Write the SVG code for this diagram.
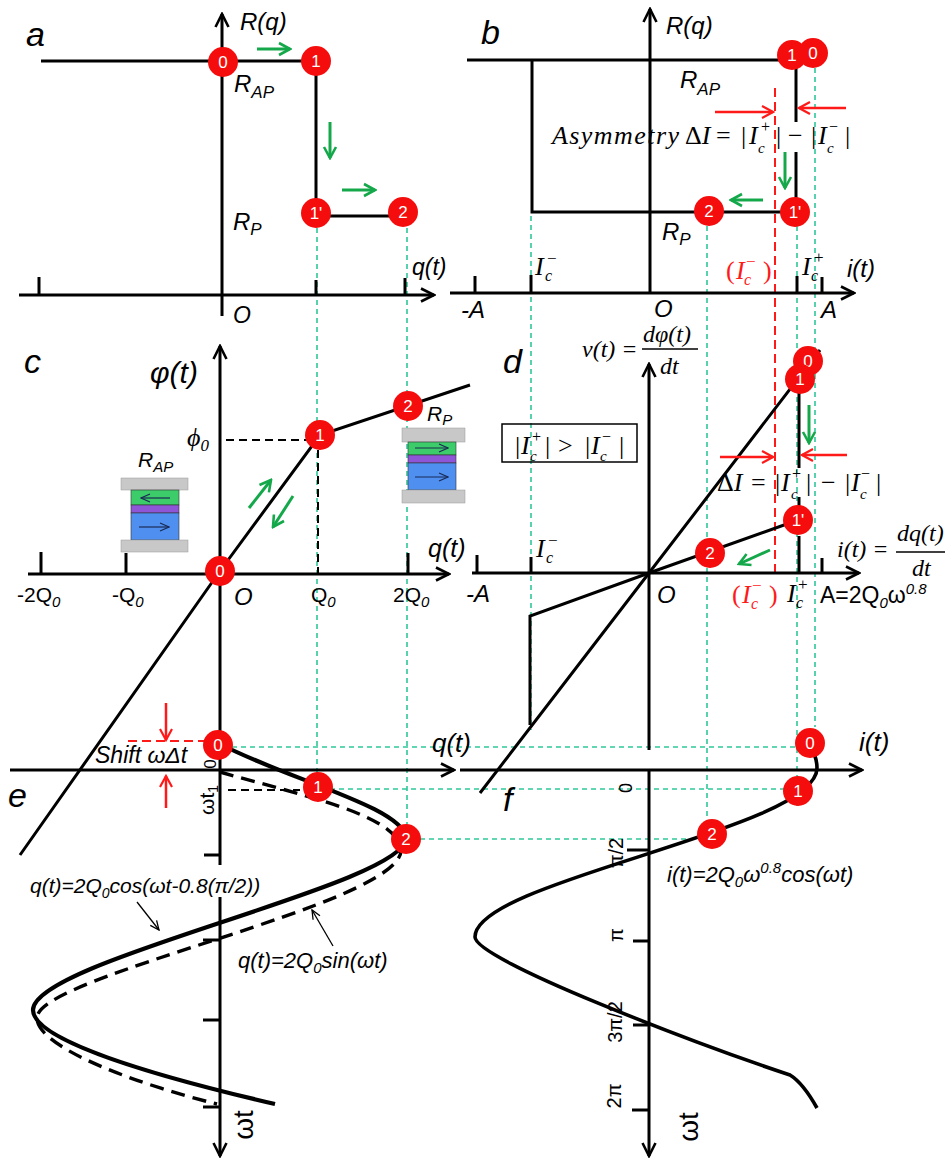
<svg xmlns="http://www.w3.org/2000/svg" width="945" height="1159" viewBox="0 0 945 1159">
<defs>
<style>
.ax{stroke:#000;stroke-width:3;fill:none}
.ln{stroke:#000;stroke-width:3;fill:none}
.tk{stroke:#000;stroke-width:3}
.gd{stroke:#2fc79a;stroke-width:1.6;stroke-dasharray:5 4;fill:none}
.rd{stroke:#ff1a1a;stroke-width:2;stroke-dasharray:9 5;fill:none}
.bd{stroke:#000;stroke-width:2;stroke-dasharray:8 5;fill:none}
.ga{stroke:#14a84a;stroke-width:3;fill:none;marker-end:url(#ag)}
.ra{stroke:#ff1a1a;stroke-width:2.5;fill:none;marker-end:url(#ar)}
.sa{stroke:#000;stroke-width:1.3;fill:none;marker-end:url(#as)}
.nd circle{fill:#f50d0d}
.nd text{fill:#fff;font-family:"Liberation Sans",Arial,sans-serif;font-size:17px;text-anchor:middle}
.s{font-family:"Liberation Sans",Arial,sans-serif;font-style:italic}
.u{font-family:"Liberation Sans",Arial,sans-serif}
.m{font-family:"Liberation Serif","Times New Roman",serif;font-style:italic}
.mu{font-family:"Liberation Serif","Times New Roman",serif}
.red{fill:#ff1a1a}
.gray{fill:#c8c8c8;stroke:#999;stroke-width:0.5}
.grn{fill:#3dcc6a;stroke:#333;stroke-width:0.6}
.pur{fill:#8e55d6;stroke:#333;stroke-width:0.6}
.blu{fill:#4f8ff0;stroke:#333;stroke-width:0.6}
.thin{stroke:#1a2a55;stroke-width:1.2;fill:none;marker-end:url(#at)}
</style>
<marker id="ah" markerUnits="userSpaceOnUse" markerWidth="18" markerHeight="18" viewBox="0 0 18 18" refX="16" refY="9" orient="auto"><path d="M3,2.5 L16,9 L3,15.5" fill="none" stroke="#000" stroke-width="2.6"/></marker>
<marker id="ag" markerUnits="userSpaceOnUse" markerWidth="16" markerHeight="16" viewBox="0 0 16 16" refX="14" refY="8" orient="auto"><path d="M3,2 L14,8 L3,14" fill="none" stroke="#14a84a" stroke-width="2.6"/></marker>
<marker id="ar" markerUnits="userSpaceOnUse" markerWidth="16" markerHeight="16" viewBox="0 0 16 16" refX="14" refY="8" orient="auto"><path d="M3,2 L14,8 L3,14" fill="none" stroke="#ff1a1a" stroke-width="2.2"/></marker>
<marker id="as" markerUnits="userSpaceOnUse" markerWidth="12" markerHeight="12" viewBox="0 0 12 12" refX="11" refY="6" orient="auto"><path d="M2,2 L11,6 L2,10" fill="none" stroke="#000" stroke-width="1.3"/></marker>
<marker id="at" markerUnits="userSpaceOnUse" markerWidth="12" markerHeight="12" viewBox="0 0 12 12" refX="11" refY="6" orient="auto"><path d="M2,2 L11,6 L2,10" fill="none" stroke="#1a2a55" stroke-width="1.2"/></marker>
</defs>
<rect width="945" height="1159" fill="#fff"/>

<g id="connectors">
  <line class="gd" x1="317" y1="228" x2="317" y2="775"/>
  <line class="gd" x1="407" y1="228" x2="407" y2="825"/>
  <line class="gd" x1="531" y1="216" x2="531" y2="730"/>
  <line class="gd" x1="707" y1="226" x2="707" y2="820"/>
  <line class="gd" x1="797" y1="226" x2="797" y2="806"/>
  <line class="gd" x1="815" y1="68" x2="815" y2="727"/>
  <line class="gd" x1="232" y1="747" x2="797" y2="747"/>
  <line class="gd" x1="330" y1="789" x2="785" y2="789"/>
  <line class="gd" x1="420" y1="839" x2="698" y2="839"/>
  <line class="rd" x1="775" y1="88" x2="775" y2="573"/>
  <line class="rd" x1="128" y1="741" x2="205" y2="741"/>
  <line class="bd" x1="226" y1="440" x2="308" y2="440"/>
  <line class="bd" x1="318" y1="450" x2="318" y2="573"/>
  <line class="bd" x1="228" y1="790" x2="300" y2="790"/>

  <!-- panel a -->
  <line class="ax" x1="222" y1="316" x2="222" y2="14" marker-end="url(#ah)"/>
  <line class="ax" x1="19" y1="295" x2="434" y2="295" marker-end="url(#ah)"/>
  <line class="tk" x1="39" y1="277" x2="39" y2="295"/>
  <line class="tk" x1="316" y1="280" x2="316" y2="295"/>
  <line class="tk" x1="405" y1="278" x2="405" y2="295"/>
  <polyline class="ln" points="41,61 316,61 316,213"/>
  <line class="ln" x1="316" y1="216" x2="403" y2="216"/>
  <line class="ga" x1="257" y1="49" x2="290" y2="49"/>
  <line class="ga" x1="330" y1="122" x2="330" y2="158"/>
  <line class="ga" x1="342" y1="190" x2="375" y2="190"/>

  <!-- panel b -->
  <line class="ax" x1="650" y1="293" x2="650" y2="9" marker-end="url(#ah)"/>
  <line class="ax" x1="450" y1="293" x2="854" y2="293" marker-end="url(#ah)"/>
  <line class="tk" x1="475" y1="276" x2="475" y2="293"/>
  <line class="tk" x1="531" y1="275" x2="531" y2="293"/>
  <line class="tk" x1="797" y1="276" x2="797" y2="293"/>
  <line class="tk" x1="822" y1="277" x2="822" y2="293"/>
  <line class="ln" x1="467" y1="60" x2="792" y2="60"/>
  <polyline class="ln" points="532,60 532,212 795,212"/>
  <line class="ln" x1="796" y1="68" x2="796" y2="122"/>
  <line class="ln" x1="796" y1="152" x2="796" y2="200"/>
  <line class="ra" x1="715" y1="112" x2="773" y2="112"/>
  <line class="ra" x1="846" y1="108" x2="799" y2="108"/>
  <line class="ga" x1="785" y1="152" x2="785" y2="188"/>
  <line class="ga" x1="763" y1="200" x2="731" y2="200"/>

  <!-- panel c -->
  <line class="ax" x1="220" y1="865" x2="220" y2="346" marker-end="url(#ah)"/>
  <line class="ax" x1="28" y1="574" x2="449" y2="574" marker-end="url(#ah)"/>
  <line class="tk" x1="41" y1="552" x2="41" y2="574"/>
  <line class="tk" x1="126" y1="553" x2="126" y2="574"/>
  <line class="tk" x1="408" y1="553" x2="408" y2="574"/>
  <polyline class="ln" points="20,855 220,571 320,435 470,385"/>
  <line class="ga" x1="249" y1="508" x2="271" y2="480"/>
  <line class="ga" x1="293" y1="496" x2="273" y2="527"/>

  <!-- panel d -->
  <line class="ax" x1="649" y1="750" x2="649" y2="364" marker-end="url(#ah)"/>
  <line class="ax" x1="472" y1="573" x2="859" y2="573" marker-end="url(#ah)"/>
  <line class="tk" x1="477" y1="555" x2="477" y2="573"/>
  <line class="tk" x1="531" y1="557" x2="531" y2="573"/>
  <line class="tk" x1="822" y1="558" x2="822" y2="573"/>
  <polyline class="ln" points="480,793 649,573 820,350"/>
  <polyline class="ln" points="530,725 530,616 649,573 798,520"/>
  <line class="ln" x1="799" y1="393" x2="799" y2="468"/>
  <line class="ln" x1="799" y1="497" x2="799" y2="508"/>
  <line class="ln" x1="799" y1="536" x2="799" y2="573"/>
  <line class="ga" x1="809" y1="405" x2="809" y2="443"/>
  <line class="ga" x1="770" y1="550" x2="739" y2="564"/>
  <line class="ra" x1="720" y1="457" x2="773" y2="457"/>
  <line class="ra" x1="847" y1="455" x2="802" y2="455"/>

  <!-- panel e -->
  <line class="ax" x1="10" y1="770" x2="454" y2="770" marker-end="url(#ah)"/>
  <line class="ax" x1="220" y1="897" x2="220" y2="1156" marker-end="url(#ah)"/>
  <line class="tk" x1="204" y1="855" x2="220" y2="855"/>
  <line class="tk" x1="203" y1="940" x2="220" y2="940"/>
  <line class="tk" x1="203" y1="1020" x2="220" y2="1020"/>
  <line class="tk" x1="203" y1="1107" x2="220" y2="1107"/>
  <path d="M222,745 C290,780 404,808 406,838 C406,885 33,960 33,1010 C33,1040 150,1075 275,1104" fill="none" stroke="#000" stroke-width="4.2"/>
  <path d="M220,772 C300,795 399,815 401,850 C401,905 37,975 37,1018 C37,1048 140,1085 217,1104" fill="none" stroke="#000" stroke-width="3.4" stroke-dasharray="14 8"/>
  <line class="ra" x1="166" y1="703" x2="166" y2="740"/>
  <line class="ra" x1="166" y1="808" x2="166" y2="776"/>
  <line class="sa" x1="137" y1="902" x2="159" y2="930"/>
  <line class="sa" x1="333" y1="946" x2="312" y2="910"/>

  <!-- panel f -->
  <line class="ax" x1="460" y1="770" x2="862" y2="770" marker-end="url(#ah)"/>
  <line class="ax" x1="649" y1="770" x2="649" y2="1156" marker-end="url(#ah)"/>
  <line class="tk" x1="627" y1="850" x2="649" y2="850"/>
  <line class="tk" x1="633" y1="941" x2="649" y2="941"/>
  <line class="tk" x1="633" y1="1025" x2="649" y2="1025"/>
  <line class="tk" x1="632" y1="1110" x2="649" y2="1110"/>
  <path d="M810,745 C814,752 817,760 817,768 C817,830 475,880 475,937 C475,960 700,1045 790,1075 Q803,1083 817,1108" fill="none" stroke="#000" stroke-width="3.6"/>
</g>

<g id="mtj-ap">
  <rect class="gray" x="121" y="478" width="67" height="12"/>
  <rect class="grn" x="131" y="490" width="48" height="15"/>
  <rect class="pur" x="131" y="505" width="48" height="8"/>
  <rect class="blu" x="131" y="513" width="48" height="27"/>
  <rect class="gray" x="121" y="540" width="67" height="12"/>
  <line class="thin" x1="170" y1="498" x2="141" y2="498"/>
  <line class="thin" x1="139" y1="527" x2="169" y2="527"/>
</g>
<g id="mtj-p">
  <rect class="gray" x="402" y="428" width="63" height="14"/>
  <rect class="grn" x="408" y="442" width="48" height="13"/>
  <rect class="pur" x="408" y="455" width="48" height="8"/>
  <rect class="blu" x="408" y="463" width="48" height="27"/>
  <rect class="gray" x="402" y="490" width="63" height="13"/>
  <line class="thin" x1="415" y1="448" x2="448" y2="448"/>
  <line class="thin" x1="415" y1="477" x2="448" y2="477"/>
</g>

<g id="labels">
  <!-- a -->
  <text class="s" x="26" y="46" font-size="34">a</text>
  <text class="s" x="240" y="30" font-size="24">R(q)</text>
  <text class="s" x="234" y="92" font-size="24">R<tspan font-size="17" dy="6">AP</tspan></text>
  <text class="s" x="233" y="230" font-size="24">R<tspan font-size="17" dy="5">P</tspan></text>
  <text class="s" x="412" y="275" font-size="23">q(t)</text>
  <text class="s" x="233" y="323" font-size="23">O</text>
  <!-- b -->
  <text class="s" x="481" y="44" font-size="34">b</text>
  <text class="s" x="666" y="34" font-size="24">R(q)</text>
  <text class="s" x="680" y="88" font-size="24">R<tspan font-size="17" dy="7">AP</tspan></text>
  <text class="s" x="662" y="240" font-size="24">R<tspan font-size="17" dy="5">P</tspan></text>
  <text class="m" x="552" y="144" font-size="26" textLength="127" lengthAdjust="spacing">Asymmetry</text>
  <text class="mu" x="685" y="144" font-size="26">Δ<tspan class="m">I</tspan></text>
  <text class="mu" x="716" y="144" font-size="26">=</text>
  <text class="mu" x="741" y="144" font-size="26">|</text>
  <text class="m" x="749" y="144" font-size="26">I</text>
  <text class="m" x="758" y="153" font-size="15">c</text>
  <text class="mu" x="761" y="132" font-size="16">+</text>
  <text class="mu" x="776" y="144" font-size="26">|</text>
  <text class="mu" x="788" y="144" font-size="26">−</text>
  <text class="mu" x="811" y="144" font-size="26">|</text>
  <text class="m" x="818" y="144" font-size="26">I</text>
  <text class="m" x="827" y="153" font-size="15">c</text>
  <text class="mu" x="829" y="132" font-size="16">−</text>
  <text class="mu" x="845" y="144" font-size="26">|</text>
  <text class="m" x="535" y="275" font-size="26">I</text>
  <text class="m" x="545" y="281" font-size="16">c</text>
  <text class="mu" x="547" y="264" font-size="17">−</text>
  <text class="mu red" x="726" y="279" font-size="26">(</text>
  <text class="m red" x="736" y="279" font-size="26">I</text>
  <text class="m red" x="744" y="285" font-size="16">c</text>
  <text class="mu red" x="746" y="267" font-size="17">−</text>
  <text class="mu red" x="763" y="279" font-size="26">)</text>
  <text class="m" x="802" y="275" font-size="26">I</text>
  <text class="m" x="811" y="281" font-size="16">c</text>
  <text class="mu" x="814" y="263" font-size="17">+</text>
  <text class="s" x="847" y="277" font-size="24">i(t)</text>
  <text class="s" x="461" y="318" font-size="24">-A</text>
  <text class="s" x="654" y="317" font-size="24">O</text>
  <text class="s" x="821" y="318" font-size="24">A</text>
  <!-- c -->
  <text class="s" x="24" y="373" font-size="34">c</text>
  <text class="s" x="150" y="383" font-size="30">φ(t)</text>
  <text class="m" x="187" y="446" font-size="26">ϕ<tspan class="mu" font-size="17" dy="5">0</tspan></text>
  <text class="s" x="138" y="467" font-size="21">R<tspan font-size="15" dy="5">AP</tspan></text>
  <text class="s" x="427" y="421" font-size="21">R<tspan font-size="15" dy="4">P</tspan></text>
  <text class="s" x="428" y="557" font-size="25">q(t)</text>
  <text class="u" x="17" y="602" font-size="21">-2Q<tspan class="s" font-size="15" dy="5">0</tspan></text>
  <text class="u" x="112" y="602" font-size="21">-Q<tspan class="s" font-size="15" dy="5">0</tspan></text>
  <text class="s" x="234" y="605" font-size="24">O</text>
  <text class="u" x="311" y="602" font-size="21">Q<tspan class="s" font-size="15" dy="5">0</tspan></text>
  <text class="u" x="393" y="602" font-size="21">2Q<tspan class="s" font-size="15" dy="5">0</tspan></text>
  <!-- d -->
  <text class="s" x="503" y="373" font-size="34">d</text>
  <text class="m" x="582" y="357" font-size="24">v<tspan class="mu">(</tspan>t<tspan class="mu">) =</tspan></text>
  <text class="m" x="643" y="342" font-size="24">dφ<tspan class="mu">(</tspan>t<tspan class="mu">)</tspan></text>
  <line x1="642" y1="349" x2="698" y2="349" stroke="#000" stroke-width="1.5"/>
  <text class="m" x="660" y="374" font-size="24">dt</text>
  <rect x="502" y="424" width="135" height="38" fill="none" stroke="#000" stroke-width="1.5"/>
  <text class="mu" x="515" y="454" font-size="26">|</text>
  <text class="m" x="521" y="454" font-size="26">I</text>
  <text class="m" x="530" y="461" font-size="15">c</text>
  <text class="mu" x="532" y="442" font-size="16">+</text>
  <text class="mu" x="545" y="454" font-size="26">|</text>
  <text class="mu" x="558" y="454" font-size="26">&gt;</text>
  <text class="mu" x="585" y="454" font-size="26">|</text>
  <text class="m" x="591" y="454" font-size="26">I</text>
  <text class="m" x="600" y="461" font-size="15">c</text>
  <text class="mu" x="602" y="442" font-size="16">−</text>
  <text class="mu" x="619" y="454" font-size="26">|</text>
  <text class="mu" x="717" y="491" font-size="26">Δ<tspan class="m">I</tspan></text>
  <text class="mu" x="751" y="491" font-size="26">=</text>
  <text class="mu" x="775" y="491" font-size="26">|</text>
  <text class="m" x="781" y="491" font-size="26">I</text>
  <text class="m" x="791" y="499" font-size="15">c</text>
  <text class="mu" x="792" y="479" font-size="16">+</text>
  <text class="mu" x="806" y="491" font-size="26">|</text>
  <text class="mu" x="821" y="491" font-size="26">−</text>
  <text class="mu" x="845" y="491" font-size="26">|</text>
  <text class="m" x="851" y="491" font-size="26">I</text>
  <text class="m" x="860" y="499" font-size="15">c</text>
  <text class="mu" x="861" y="479" font-size="16">−</text>
  <text class="mu" x="876" y="491" font-size="26">|</text>
  <text class="m" x="536" y="557" font-size="26">I</text>
  <text class="m" x="546" y="563" font-size="16">c</text>
  <text class="mu" x="548" y="546" font-size="17">−</text>
  <text class="m" x="837" y="557" font-size="24">i<tspan class="mu">(</tspan>t<tspan class="mu">) =</tspan></text>
  <text class="m" x="897" y="541" font-size="24">dq<tspan class="mu">(</tspan>t<tspan class="mu">)</tspan></text>
  <line x1="896" y1="552" x2="945" y2="552" stroke="#000" stroke-width="1.5"/>
  <text class="m" x="912" y="576" font-size="24">dt</text>
  <text class="s" x="466" y="602" font-size="24">-A</text>
  <text class="s" x="657" y="603" font-size="24">O</text>
  <text class="mu red" x="732" y="603" font-size="26">(</text>
  <text class="m red" x="742" y="603" font-size="26">I</text>
  <text class="m red" x="751" y="609" font-size="16">c</text>
  <text class="mu red" x="752" y="591" font-size="17">−</text>
  <text class="mu red" x="769" y="603" font-size="26">)</text>
  <text class="m" x="787" y="602" font-size="26">I</text>
  <text class="m" x="796" y="608" font-size="16">c</text>
  <text class="mu" x="798" y="590" font-size="17">+</text>
  <text class="u" x="820" y="603" font-size="23">A=2Q<tspan class="s" font-size="15" dy="5">0</tspan><tspan dy="-5">ω</tspan><tspan class="s" font-size="15" dy="-9">0.8</tspan></text>
  <!-- e -->
  <text class="s" x="8" y="807" font-size="34">e</text>
  <text class="s" x="95" y="763" font-size="23">Shift ωΔt</text>
  <text class="u" font-size="17" text-anchor="middle" transform="translate(216,764) rotate(-90)">0</text>
  <text class="u" font-size="21" text-anchor="middle" transform="translate(214,800) rotate(-90)">ωt<tspan font-size="14" dy="4">1</tspan></text>
  <text class="s" x="432" y="752" font-size="26">q(t)</text>
  <text class="s" x="30" y="893" font-size="21">q(t)=2Q<tspan font-size="14" dy="5">0</tspan><tspan dy="-5">cos(ωt-0.8(π/2))</tspan></text>
  <text class="s" x="238" y="968" font-size="22">q(t)=2Q<tspan font-size="15" dy="5">0</tspan><tspan dy="-5">sin(ωt)</tspan></text>
  <text class="u" font-size="28" text-anchor="middle" transform="translate(253,1125) rotate(-90)">ωt</text>
  <!-- f -->
  <text class="s" x="503" y="811" font-size="34">f</text>
  <text class="s" x="859" y="751" font-size="26">i(t)</text>
  <text class="u" font-size="18" text-anchor="middle" transform="translate(632,788) rotate(-90)">0</text>
  <text class="u" font-size="20" text-anchor="middle" transform="translate(623,853) rotate(-90)">π/2</text>
  <text class="u" font-size="20" text-anchor="middle" transform="translate(623,935) rotate(-90)">π</text>
  <text class="u" font-size="20" text-anchor="middle" transform="translate(622,1022) rotate(-90)">3π/2</text>
  <text class="u" font-size="20" text-anchor="middle" transform="translate(621,1096) rotate(-90)">2π</text>
  <text class="s" x="667" y="882" font-size="22">i(t)=2Q<tspan font-size="15" dy="5">0</tspan><tspan dy="-5">ω</tspan><tspan font-size="15" dy="-9">0.8</tspan><tspan dy="9">cos(ωt)</tspan></text>
  <text class="u" font-size="28" text-anchor="middle" transform="translate(698,1127) rotate(-90)">ωt</text>
</g>

<g id="nodes">
  <g id="a0" class="nd"><circle cx="223" cy="62" r="15"/><text x="223" y="68">0</text></g>
  <g id="a1" class="nd"><circle cx="316" cy="61" r="15"/><text x="316" y="67">1</text></g>
  <g id="a1p" class="nd"><circle cx="316" cy="213" r="15"/><text x="316" y="219">1'</text></g>
  <g id="a2" class="nd"><circle cx="403" cy="212" r="15"/><text x="403" y="218">2</text></g>
  <g id="b1" class="nd"><circle cx="792" cy="55" r="15"/><text x="792" y="61">1</text></g>
  <g id="b0" class="nd"><circle cx="813" cy="53" r="15"/><text x="813" y="59">0</text></g>
  <g id="b2" class="nd"><circle cx="709" cy="211" r="15"/><text x="709" y="217">2</text></g>
  <g id="b1p" class="nd"><circle cx="795" cy="212" r="15"/><text x="795" y="218">1'</text></g>
  <g id="c0" class="nd"><circle cx="220" cy="571" r="15"/><text x="220" y="577">0</text></g>
  <g id="c1" class="nd"><circle cx="320" cy="435" r="15"/><text x="320" y="441">1</text></g>
  <g id="c2" class="nd"><circle cx="408" cy="406" r="15"/><text x="408" y="412">2</text></g>
  <g id="d0" class="nd"><circle cx="808" cy="361" r="15"/><text x="808" y="367">0</text></g>
  <g id="d1" class="nd"><circle cx="800" cy="379" r="15"/><text x="800" y="385">1</text></g>
  <g id="d1p" class="nd"><circle cx="798" cy="520" r="15"/><text x="798" y="526">1'</text></g>
  <g id="d2" class="nd"><circle cx="710" cy="553" r="15"/><text x="710" y="559">2</text></g>
  <g id="e0" class="nd"><circle cx="218" cy="745" r="15"/><text x="218" y="751">0</text></g>
  <g id="e1" class="nd"><circle cx="318" cy="787" r="15"/><text x="318" y="793">1</text></g>
  <g id="e2" class="nd"><circle cx="406" cy="839" r="15"/><text x="406" y="845">2</text></g>
  <g id="f0" class="nd"><circle cx="810" cy="743" r="15"/><text x="810" y="749">0</text></g>
  <g id="f1" class="nd"><circle cx="798" cy="791" r="15"/><text x="798" y="797">1</text></g>
  <g id="f2" class="nd"><circle cx="712" cy="834" r="15"/><text x="712" y="840">2</text></g>
</g>
</svg>
